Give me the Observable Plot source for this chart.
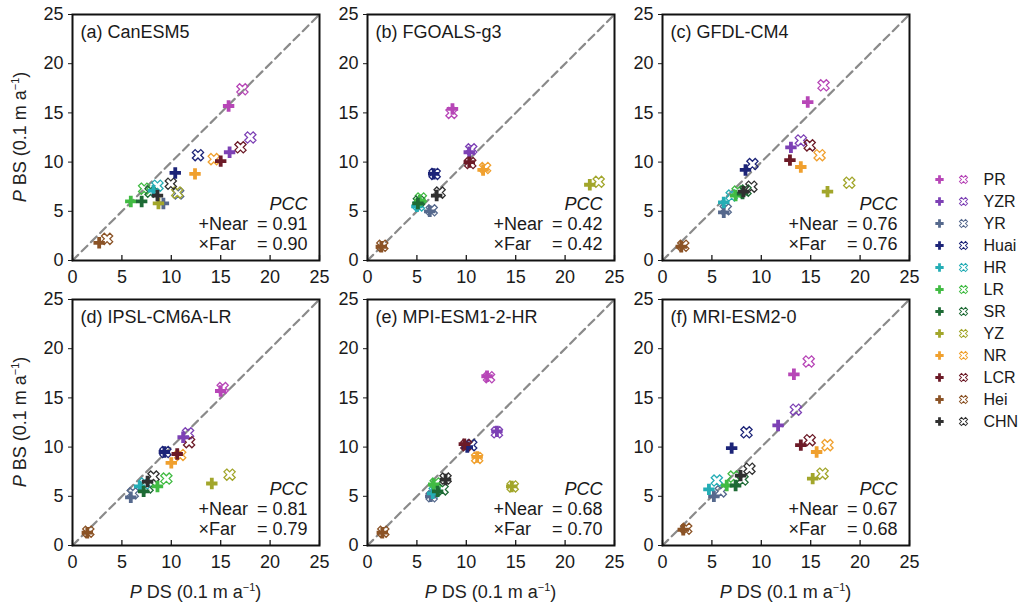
<!DOCTYPE html>
<html><head><meta charset="utf-8">
<script src="https://cdn.jsdelivr.net/npm/d3@7"></script>
<script src="https://cdn.jsdelivr.net/npm/@observablehq/plot@0.6"></script>
<style>
body{margin:0;background:#fff;font-family:"Liberation Sans",Arial,sans-serif;}
#chart{position:relative;width:1025px;height:604px;overflow:hidden;background:#fff;}
#chart svg{position:absolute;overflow:visible;}
.axlab{position:absolute;font-size:18px;color:#222;white-space:nowrap;line-height:1;}
.axlab sup{font-size:11px;vertical-align:7px;line-height:0;}
</style></head><body><div id="chart"></div>
<script>
// ---------- data ----------
const regions = ["PR","YZR","YR","Huai","HR","LR","SR","YZ","NR","LCR","Hei","CHN"];
const regionColors = ["#b746b7","#7d41b5","#56698d","#1c2478","#25adb5","#41bb43","#1e6b35","#a2a62b","#f0a02e","#6c1a27","#8b5326","#303030"];
const models = ["CanESM5","FGOALS-g3","GFDL-CM4","IPSL-CM6A-LR","MPI-ESM1-2-HR","MRI-ESM2-0"];
const panelTags = ["(a)","(b)","(c)","(d)","(e)","(f)"];
const pccNear = ["0.91","0.42","0.76","0.81","0.68","0.67"];
const pccFar  = ["0.90","0.42","0.76","0.79","0.70","0.68"];
const axisTicks = [0,5,10,15,20,25];
const axisRange = [0,25];

// order of every array follows `regions`
const canesm5NearDS = [15.8,15.9,9.2,10.4,8.2,5.9,7.0,8.7,12.4,15.0,2.7,8.6];
const canesm5NearBS = [15.7,11.0,5.8,8.9,7.1,6.0,6.0,5.8,8.8,10.1,1.8,6.6];
const canesm5FarDS  = [17.2,18.0,10.7,12.7,8.6,7.25,7.9,10.6,14.3,17.0,3.5,9.95];
const canesm5FarBS  = [17.4,12.5,6.8,10.7,7.6,7.3,7.0,6.9,10.3,11.5,2.2,7.8];

const fgoalsNearDS = [8.6,10.3,6.3,6.7,5.0,5.3,5.1,22.5,11.7,10.3,1.4,7.0];
const fgoalsNearBS = [15.4,11.0,5.0,8.8,5.5,6.1,5.8,7.7,9.2,10.0,1.4,6.6];
const fgoalsFarDS  = [8.5,10.5,6.5,6.8,5.2,5.4,5.2,23.4,11.9,10.4,1.5,7.3];
const fgoalsFarBS  = [15.0,11.3,5.1,8.8,5.6,6.3,6.0,8.0,9.4,9.9,1.5,6.9];

const gfdlNearDS = [14.7,13.0,6.2,8.4,6.2,7.4,8.1,16.7,14.0,12.9,1.9,8.2];
const gfdlNearBS = [16.1,11.5,4.9,9.2,5.9,6.6,6.8,7.0,9.5,10.2,1.4,7.0];
const gfdlFarDS  = [16.3,14.0,6.4,9.1,7.0,7.6,8.4,18.9,15.9,14.9,2.1,9.0];
const gfdlFarBS  = [17.8,12.2,5.2,9.8,6.6,7.0,7.1,7.9,10.7,11.7,1.5,7.5];

const ipslNearDS = [15.0,11.2,5.9,9.3,6.8,8.6,7.2,14.1,10.0,10.6,1.5,7.6];
const ipslNearBS = [15.7,11.0,4.9,9.5,6.0,6.0,5.5,6.3,8.4,9.3,1.3,6.5];
const ipslFarDS  = [15.2,11.7,6.1,9.4,7.3,9.5,7.6,15.9,10.9,11.8,1.6,8.2];
const ipslFarBS  = [16.0,11.4,5.3,9.5,6.3,6.8,5.9,7.2,9.2,10.5,1.4,7.0];

const mpiNearDS = [12.1,13.1,6.4,10.1,6.6,6.7,7.1,14.6,11.1,9.8,1.5,7.9];
const mpiNearBS = [17.2,11.6,5.0,10.0,5.3,6.2,5.5,6.0,9.0,10.3,1.3,6.7];
const mpiFarDS  = [12.3,13.1,6.5,10.5,6.8,6.9,7.6,14.7,11.1,10.0,1.6,7.9];
const mpiFarBS  = [17.1,11.5,5.0,10.2,5.5,6.3,5.7,6.0,8.9,10.2,1.4,6.8];

const mriNearDS = [13.3,11.7,5.2,7.0,4.7,6.5,7.4,15.2,15.6,14.0,2.1,7.9];
const mriNearBS = [17.4,12.2,5.0,9.9,5.7,6.1,6.1,6.8,9.5,10.2,1.6,7.1];
const mriFarDS  = [14.8,13.5,5.9,8.5,5.5,7.2,8.1,16.2,16.7,14.9,2.4,8.8];
const mriFarBS  = [18.7,13.8,5.5,11.5,6.6,7.0,6.7,7.3,10.2,10.7,1.7,7.8];

const nearDS = [canesm5NearDS, fgoalsNearDS, gfdlNearDS, ipslNearDS, mpiNearDS, mriNearDS];
const nearBS = [canesm5NearBS, fgoalsNearBS, gfdlNearBS, ipslNearBS, mpiNearBS, mriNearBS];
const farDS  = [canesm5FarDS, fgoalsFarDS, gfdlFarDS, ipslFarDS, mpiFarDS, mriFarDS];
const farBS  = [canesm5FarBS, fgoalsFarBS, gfdlFarBS, ipslFarBS, mpiFarBS, mriFarBS];

// ---------- layout ----------
const FONT = "'Liberation Sans', Arial, Helvetica, sans-serif";
const chart = document.getElementById("chart");
const colLeft = [72, 367, 662];
const rowTop = [14, 299];
const innerW = 247, innerH = 246;
const mL = 46, mR = 8, mT = 8, mB = 32;

function table(ds, bs) { return regions.map((r, i) => ({region: r, ds: ds[i], bs: bs[i]})); }

models.forEach((m, k) => {
  const col = k % 3, row = Math.floor(k / 3);
  const near = table(nearDS[k], nearBS[k]);
  const far = table(farDS[k], farBS[k]);
  const svg = Plot.plot({
    width: innerW + mL + mR, height: innerH + mT + mB,
    marginLeft: mL, marginRight: mR, marginTop: mT, marginBottom: mB,
    x: {domain: axisRange}, y: {domain: axisRange},
    color: {domain: regions, range: regionColors},
    style: {fontFamily: FONT, fontSize: "18px", color: "#1a1a1a", background: "transparent", overflow: "visible"},
    marks: [
      Plot.line(axisRange, {x: d => d, y: d => d, stroke: "#8a8a8a", strokeWidth: 2.2, strokeDasharray: "8,5"}),
      Plot.dot(far, {x: "ds", y: "bs", symbol: "cross", rotate: 45, r: 5, stroke: "region", fill: "none", strokeWidth: 1.3}),
      Plot.dot(near, {x: "ds", y: "bs", symbol: "cross", r: 4.8, fill: "region", stroke: "none"}),
      Plot.ruleX(axisTicks, {x: d => d, insetTop: innerH - 5, stroke: "#1a1a1a", strokeWidth: 1.3}),
      Plot.axisX({ticks: axisTicks, tickSize: 0, tickPadding: 10, fontSize: 18, label: null}),
      Plot.axisY({ticks: axisTicks, tickSize: 4, tickPadding: 5, fontSize: 18, label: null}),
      Plot.frame({stroke: "#111", strokeWidth: 2}),
      Plot.text([`${panelTags[k]} ${m}`], {frameAnchor: "top-left", dx: 8, dy: 18, lineAnchor: "middle", textAnchor: "start", fontSize: 18}),
      Plot.text(["PCC"], {frameAnchor: "bottom-right", dx: -12, dy: -56, lineAnchor: "middle", textAnchor: "end", fontSize: 18, fontStyle: "italic"}),
      Plot.text(["+Near"], {frameAnchor: "bottom-right", dx: -121, dy: -36, lineAnchor: "middle", textAnchor: "start", fontSize: 18}),
      Plot.text([`= ${pccNear[k]}`], {frameAnchor: "bottom-right", dx: -12, dy: -36, lineAnchor: "middle", textAnchor: "end", fontSize: 18}),
      Plot.text(["\u00d7Far"], {frameAnchor: "bottom-right", dx: -121, dy: -16, lineAnchor: "middle", textAnchor: "start", fontSize: 18}),
      Plot.text([`= ${pccFar[k]}`], {frameAnchor: "bottom-right", dx: -12, dy: -16, lineAnchor: "middle", textAnchor: "end", fontSize: 18})
    ]
  });
  svg.style.left = (colLeft[col] - mL) + "px";
  svg.style.top = (rowTop[row] - mT) + "px";
  chart.appendChild(svg);
});

// axis titles
rowTop.forEach(t => {
  const d = document.createElement("div");
  d.className = "axlab";
  d.innerHTML = "<i>P</i> BS (0.1 m a<sup>\u22121</sup>)";
  d.style.left = "20px"; d.style.top = (t + innerH / 2) + "px";
  d.style.transform = "translate(-50%,-50%) rotate(-90deg)";
  chart.appendChild(d);
});
colLeft.forEach(l => {
  const d = document.createElement("div");
  d.className = "axlab";
  d.innerHTML = "<i>P</i> DS (0.1 m a<sup>\u22121</sup>)";
  d.style.left = (l + innerW / 2) + "px"; d.style.top = "592px";
  d.style.transform = "translate(-50%,-50%)";
  chart.appendChild(d);
});

// legend
const legend = Plot.plot({
  width: 95, height: 270, marginTop: 12, marginBottom: 12, marginLeft: 0, marginRight: 0,
  y: {type: "point", domain: regions, padding: 0, axis: null},
  color: {domain: regions, range: regionColors},
  style: {fontFamily: FONT, fontSize: "16px", color: "#1a1a1a", background: "transparent", overflow: "visible"},
  marks: [
    Plot.dot(regions, {y: d => d, frameAnchor: "left", dx: 9, symbol: "cross", r: 3.5, fill: d => d, stroke: "none"}),
    Plot.dot(regions, {y: d => d, frameAnchor: "left", dx: 33, symbol: "cross", rotate: 45, r: 3.6, stroke: d => d, fill: "none", strokeWidth: 1}),
    Plot.text(regions, {y: d => d, text: d => d, frameAnchor: "left", dx: 53, textAnchor: "start", fontSize: 16})
  ]
});
legend.style.left = "930px";
legend.style.top = "165px";
chart.appendChild(legend);
</script></body></html>
